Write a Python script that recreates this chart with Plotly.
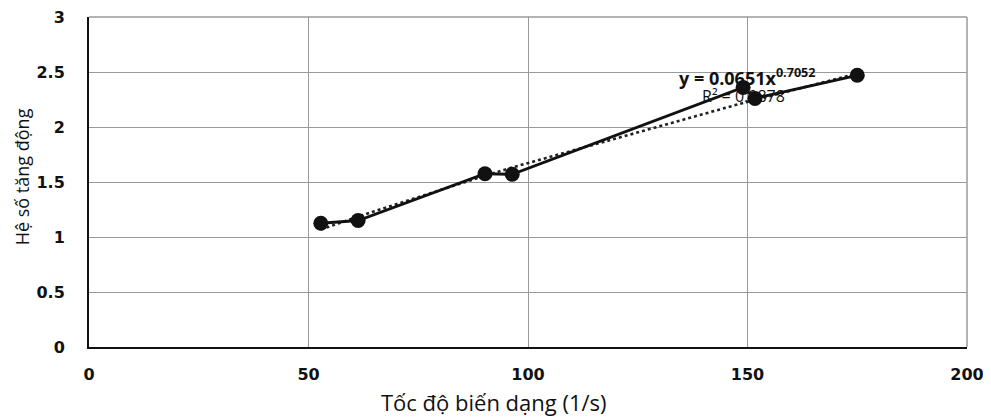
import plotly.graph_objects as go

strain_rate = [52.8, 61.3, 90.2, 96.4, 149.0, 151.7, 175.0]
dif = [1.125, 1.15, 1.575, 1.57, 2.36, 2.26, 2.47]
coef_a = 0.0651
coef_b = 0.7052
r2 = 0.9878
x_ticks = [0, 50, 100, 150, 200]
y_ticks = [0, 0.5, 1, 1.5, 2, 2.5, 3]

trend = [coef_a * x ** coef_b for x in strain_rate]

fig = go.Figure()
fig.add_trace(go.Scatter(x=strain_rate, y=trend, mode="lines",
                         line=dict(color="#222", width=2.6, dash="dot"),
                         showlegend=False, hoverinfo="skip"))
fig.add_trace(go.Scatter(x=strain_rate, y=dif, mode="lines+markers",
                         line=dict(color="#111", width=2.8),
                         marker=dict(color="#111", size=15),
                         showlegend=False))

font_tick = dict(family="DejaVu Sans", size=16, color="#111", weight="bold")
# page body has an 8px margin, so the figure is sized/offset to compensate
fig.update_layout(
    width=975, height=411,
    margin=dict(l=81, r=16, t=9, b=72),
    paper_bgcolor="white", plot_bgcolor="white",
    font=dict(family="Open Sans", color="#111"),
)
fig.update_xaxes(range=[0, 200], tickvals=x_ticks, ticktext=[str(v) for v in x_ticks],
                 showgrid=True, gridcolor="#9a9a9a", gridwidth=1.2, automargin=False,
                 showline=True, linecolor="#111", linewidth=2, mirror=False,
                 zeroline=False, ticks="", tickfont=font_tick, ticklabelstandoff=12,
                 ticklabeloverflow="allow")
fig.update_yaxes(range=[0, 3], tickvals=y_ticks, ticktext=[str(v) for v in y_ticks],
                 showgrid=True, gridcolor="#9a9a9a", gridwidth=1.2, automargin=False,
                 showline=True, linecolor="#111", linewidth=2,
                 zeroline=False, ticks="", tickfont=font_tick, ticklabelstandoff=19,
                 ticklabeloverflow="allow")
# top and right borders (gray)
fig.add_shape(type="line", xref="paper", yref="paper", x0=0, x1=1, y0=1, y1=1,
              line=dict(color="#9a9a9a", width=1.5))
fig.add_shape(type="line", xref="paper", yref="paper", x0=1, x1=1, y0=0, y1=1,
              line=dict(color="#9a9a9a", width=1.5))

fig.add_annotation(xref="paper", yref="paper", x=-0.076, y=0.515, text="Hệ số tăng động",
                   textangle=-90, showarrow=False, xanchor="center", yanchor="middle",
                   font=dict(family="Open Sans", size=18, color="#111"))
fig.add_annotation(xref="paper", yref="paper", x=0.461, y=-0.167, yanchor="middle",
                   xanchor="center", text="Tốc độ biến dạng (1/s)", showarrow=False,
                   font=dict(family="Open Sans", size=22, color="#111"))
fig.add_annotation(xref="paper", yref="paper", x=0.75, y=0.864, xanchor="center",
                   text=f"y = {coef_a}x<sup>{coef_b}</sup>", showarrow=False,
                   font=dict(family="Open Sans", size=18, color="#111", weight="bold"))
fig.add_annotation(xref="paper", yref="paper", x=0.745, y=0.80, xanchor="center",
                   text=f"R² = {r2}", showarrow=False,
                   font=dict(family="Open Sans", size=16, color="#111"))

fig.write_html("out.html")
